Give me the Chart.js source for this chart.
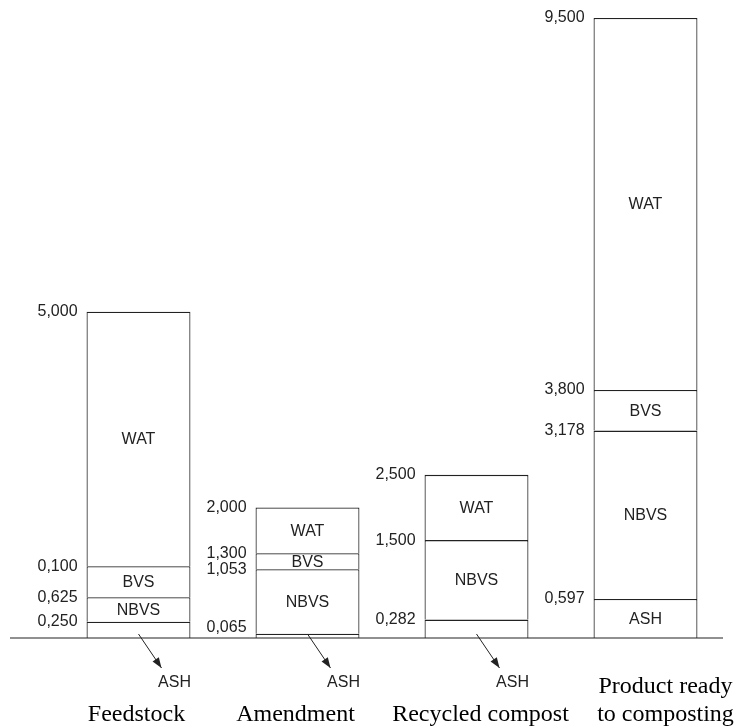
<!DOCTYPE html>
<html>
<head>
<meta charset="utf-8">
<script src="https://cdn.jsdelivr.net/npm/chart.js@4"></script>
<style>
html, body { margin: 0; padding: 0; background: #fff; }
#wrap { width: 735px; height: 727px; }
</style>
</head>
<body>
<div id="wrap"><canvas id="chart"></canvas></div>
<script>
const categories = [["Feedstock"], ["Amendment"], ["Recycled compost"], ["Product ready", "to composting"]];
const layers = ["ASH", "NBVS", "BVS", "WAT"];

// cumulative value at the top of each layer (null = layer absent)
const ashTop = [0.25, 0.065, 0.282, 0.597];
const nbvsTop = [0.625, 1.053, 1.5, 3.178];
const bvsTop = [1.1, 1.3, null, 3.8];
const watTop = [5.0, 2.0, 2.5, 9.5];

// numbers printed next to each boundary
const ashText = ["0,250", "0,065", "0,282", "0,597"];
const nbvsText = ["0,625", "1,053", "1,500", "3,178"];
const bvsText = ["0,100", "1,300", null, "3,800"];
const watText = ["5,000", "2,000", "2,500", "9,500"];

const tops = [ashTop, nbvsTop, bvsTop, watTop];
const texts = [ashText, nbvsText, bvsText, watText];

function below(k, i) {
    for (let j = k - 1; j >= 0; j--) {
        if (tops[j][i] !== null) return tops[j][i];
    }
    return 0;
}

function segments(k) {
    return tops[k].map((t, i) => (t === null ? null : t - below(k, i)));
}

const ink = "#222";
const sans = "'Liberation Sans', Arial, sans-serif";
const serif = "'Liberation Serif', 'Times New Roman', serif";
// the category captions sit a little off the bar centres
const captionShift = [-2, -12, 4, 20];

const labelPlugin = {
    id: "labels",
    afterDatasetsDraw(chart) {
        const ctx = chart.ctx;
        const x = chart.scales.x;
        const y = chart.scales.y;
        const base = y.getPixelForValue(0);
        ctx.save();

        // ground line
        ctx.strokeStyle = ink;
        ctx.lineWidth = 1.2;
        ctx.beginPath();
        ctx.moveTo(10, base);
        ctx.lineTo(723, base);
        ctx.stroke();

        ctx.fillStyle = ink;
        categories.forEach((c, i) => {
            const cx = x.getPixelForValue(i);
            const half = chart.getDatasetMeta(0).data[i].width / 2;
            ctx.font = "16px " + sans;
            layers.forEach((name, k) => {
                const t = tops[k][i];
                if (t === null) return;
                const yTop = y.getPixelForValue(t);
                const yBot = y.getPixelForValue(below(k, i));

                // boundary value
                ctx.textAlign = "right";
                ctx.textBaseline = "middle";
                ctx.fillText(texts[k][i], cx - half - 9, Math.min(yTop, base - 10));

                // layer name, thin ash layers get an arrow
                if (k > 0 || yBot - yTop >= 25) {
                    ctx.textAlign = "center";
                    ctx.fillText(name, cx, (yTop + yBot) / 2 + 1);
                } else {
                    const x0 = cx, y0 = base - 4;
                    const x1 = cx + 23, y1 = base + 30;
                    ctx.beginPath();
                    ctx.moveTo(x0, y0);
                    ctx.lineTo(x1, y1);
                    ctx.lineWidth = 1;
                    ctx.stroke();
                    const a = Math.atan2(y1 - y0, x1 - x0);
                    ctx.beginPath();
                    ctx.moveTo(x1, y1);
                    ctx.lineTo(x1 - 11 * Math.cos(a - 0.35), y1 - 11 * Math.sin(a - 0.35));
                    ctx.lineTo(x1 - 11 * Math.cos(a + 0.35), y1 - 11 * Math.sin(a + 0.35));
                    ctx.closePath();
                    ctx.fill();
                    ctx.textAlign = "center";
                    ctx.fillText(name, cx + 36, base + 45);
                }
            });

            // category caption, bottom line aligned
            ctx.font = "24px " + serif;
            ctx.fillStyle = "#000";
            ctx.textAlign = "center";
            ctx.textBaseline = "alphabetic";
            const n = c.length;
            c.forEach((line, j) => {
                ctx.fillText(line, cx + captionShift[i], base + 83 - (n - 1 - j) * 28);
            });
            ctx.fillStyle = ink;
        });
        ctx.restore();
    }
};

new Chart(document.getElementById("chart"), {
    type: "bar",
    data: {
        labels: categories,
        datasets: layers.map((name, k) => ({
            label: name,
            data: segments(k),
            backgroundColor: "#fff",
            borderColor: ink,
            borderWidth: { top: 1.3, left: 1.2, right: 1.2, bottom: 0 },
            borderSkipped: false,
            categoryPercentage: 1,
            barPercentage: 0.615
        }))
    },
    options: {
        responsive: true,
        maintainAspectRatio: false,
        animation: false,
        layout: { padding: { left: 54, right: 5, top: 18, bottom: 89 } },
        plugins: {
            legend: { display: false },
            tooltip: { enabled: false }
        },
        scales: {
            x: {
                stacked: true,
                display: false
            },
            y: {
                stacked: true,
                display: false,
                min: 0,
                max: 9.5
            }
        }
    },
    plugins: [labelPlugin]
});
</script>
</body>
</html>
